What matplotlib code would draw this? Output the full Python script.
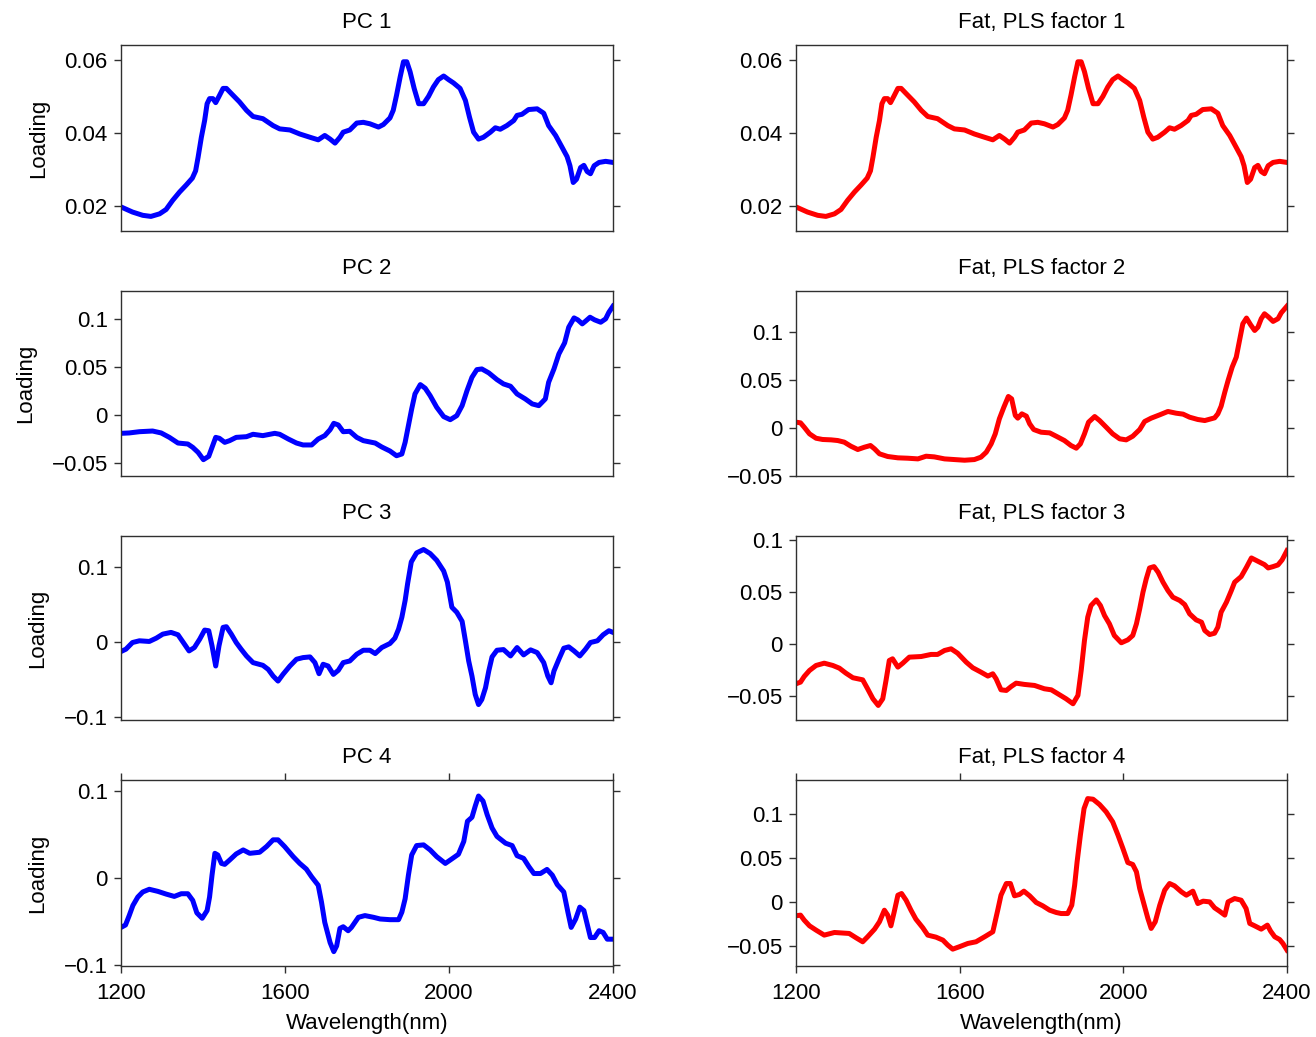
import matplotlib
matplotlib.use("Agg")
import matplotlib.pyplot as plt
from matplotlib.ticker import FuncFormatter

plt.rcParams['font.family'] = ['Liberation Sans', 'DejaVu Sans']

# Principal component loadings
pc1_nm = [1200, 1228, 1253, 1273, 1294, 1310, 1326, 1343, 1359, 1374,
          1382, 1388, 1396, 1404, 1410, 1416, 1424, 1431, 1439, 1449,
          1457, 1469, 1489, 1506, 1522, 1546, 1571, 1587, 1612, 1636,
          1661, 1681, 1697, 1710, 1722, 1734, 1742, 1758, 1775, 1791,
          1807, 1828, 1840, 1856, 1864, 1872, 1881, 1889, 1897, 1905,
          1915, 1926, 1938, 1950, 1962, 1974, 1987, 1999, 2011, 2027,
          2040, 2050, 2060, 2072, 2084, 2101, 2113, 2125, 2141, 2158,
          2166, 2178, 2194, 2215, 2231, 2243, 2260, 2276, 2288, 2295,
          2303, 2311, 2321, 2329, 2337, 2345, 2354, 2366, 2382, 2400]
pc1_load = [0.0197, 0.0183, 0.0174, 0.0171, 0.0178, 0.0190, 0.0215, 0.0238, 0.0257, 0.0276,
            0.0296, 0.0333, 0.0388, 0.0434, 0.0480, 0.0494, 0.0494, 0.0483, 0.0500, 0.0522,
            0.0522, 0.0508, 0.0485, 0.0462, 0.0445, 0.0439, 0.0420, 0.0411, 0.0408, 0.0397,
            0.0388, 0.0381, 0.0393, 0.0383, 0.0372, 0.0388, 0.0402, 0.0408, 0.0427, 0.0429,
            0.0425, 0.0416, 0.0423, 0.0441, 0.0462, 0.0503, 0.0554, 0.0595, 0.0595, 0.0568,
            0.0522, 0.0480, 0.0480, 0.0500, 0.0526, 0.0546, 0.0556, 0.0546, 0.0537, 0.0522,
            0.0489, 0.0443, 0.0402, 0.0383, 0.0388, 0.0402, 0.0414, 0.0410, 0.0420, 0.0434,
            0.0448, 0.0451, 0.0464, 0.0466, 0.0454, 0.0420, 0.0393, 0.0360, 0.0335, 0.0310,
            0.0264, 0.0273, 0.0305, 0.0311, 0.0294, 0.0288, 0.0310, 0.0319, 0.0322, 0.0319]

pc2_nm = [1200, 1220, 1245, 1277, 1298, 1318, 1339, 1363, 1375, 1388,
          1401, 1414, 1422, 1431, 1440, 1453, 1465, 1481, 1506, 1522,
          1546, 1575, 1587, 1608, 1628, 1644, 1665, 1681, 1697, 1710,
          1719, 1730, 1742, 1758, 1775, 1791, 1820, 1836, 1856, 1872,
          1885, 1893, 1901, 1909, 1917, 1930, 1942, 1954, 1970, 1987,
          2003, 2019, 2032, 2044, 2056, 2068, 2080, 2097, 2117, 2133,
          2150, 2166, 2186, 2203, 2219, 2235, 2243, 2256, 2268, 2282,
          2292, 2305, 2314, 2325, 2333, 2344, 2355, 2370, 2382, 2390,
          2400]
pc2_load = [-0.0191, -0.0187, -0.0174, -0.0167, -0.0187, -0.0233, -0.0292, -0.0302, -0.0337, -0.0389,
            -0.0465, -0.0430, -0.0337, -0.0233, -0.0243, -0.0285, -0.0267, -0.0233, -0.0226, -0.0201,
            -0.0215, -0.0191, -0.0201, -0.0250, -0.0292, -0.0312, -0.0312, -0.0250, -0.0215, -0.0153,
            -0.0087, -0.0104, -0.0174, -0.0170, -0.0233, -0.0267, -0.0292, -0.0333, -0.0375, -0.0424,
            -0.0406, -0.0285, -0.0111, 0.0063, 0.0219, 0.0316, 0.0278, 0.0201, 0.0080, -0.0017,
            -0.0049, -0.0007, 0.0097, 0.0254, 0.0392, 0.0472, 0.0479, 0.0438, 0.0368, 0.0323,
            0.0299, 0.0219, 0.0167, 0.0115, 0.0097, 0.0167, 0.0340, 0.0479, 0.0635, 0.0750,
            0.0913, 0.1010, 0.0990, 0.0948, 0.0976, 0.1017, 0.0990, 0.0965, 0.1000, 0.1069,
            0.1132]

pc3_nm = [1200, 1212, 1228, 1245, 1269, 1286, 1302, 1322, 1339, 1352,
          1366, 1379, 1392, 1404, 1414, 1422, 1431, 1439, 1449, 1457,
          1469, 1481, 1493, 1506, 1522, 1546, 1559, 1571, 1583, 1595,
          1612, 1628, 1644, 1661, 1673, 1683, 1693, 1705, 1718, 1730,
          1742, 1758, 1775, 1791, 1807, 1820, 1836, 1856, 1868, 1877,
          1885, 1893, 1899, 1908, 1921, 1938, 1954, 1970, 1987, 1996,
          2007, 2019, 2032, 2040, 2048, 2056, 2064, 2072, 2080, 2089,
          2097, 2105, 2117, 2133, 2150, 2166, 2182, 2199, 2215, 2231,
          2241, 2249, 2256, 2268, 2280, 2292, 2305, 2319, 2333, 2345,
          2362, 2376, 2390, 2400]
pc3_load = [-0.0127, -0.0096, -0.0007, 0.0016, 0.0007, 0.0051, 0.0105, 0.0128, 0.0096, -0.0007,
            -0.0119, -0.0074, 0.0038, 0.0159, 0.0150, -0.0051, -0.0320, -0.0051, 0.0195, 0.0204,
            0.0105, -0.0007, -0.0096, -0.0186, -0.0275, -0.0311, -0.0365, -0.0454, -0.0521, -0.0432,
            -0.0320, -0.0230, -0.0208, -0.0199, -0.0275, -0.0423, -0.0297, -0.0320, -0.0432, -0.0378,
            -0.0275, -0.0253, -0.0163, -0.0110, -0.0110, -0.0154, -0.0074, -0.0020, 0.0051, 0.0172,
            0.0329, 0.0553, 0.0776, 0.1067, 0.1188, 0.1233, 0.1179, 0.1089, 0.0946, 0.0799,
            0.0463, 0.0396, 0.0275, 0.0016, -0.0253, -0.0454, -0.0700, -0.0834, -0.0767, -0.0611,
            -0.0387, -0.0199, -0.0110, -0.0101, -0.0186, -0.0074, -0.0172, -0.0105, -0.0141, -0.0275,
            -0.0454, -0.0544, -0.0387, -0.0230, -0.0083, -0.0065, -0.0119, -0.0186, -0.0096, -0.0007,
            0.0016, 0.0096, 0.0150, 0.0128]

pc4_nm = [1200, 1211, 1220, 1229, 1241, 1253, 1269, 1290, 1310, 1330,
          1347, 1363, 1375, 1385, 1398, 1410, 1416, 1422, 1429, 1436,
          1445, 1453, 1465, 1481, 1498, 1514, 1538, 1555, 1571, 1583,
          1599, 1620, 1636, 1652, 1665, 1681, 1689, 1697, 1710, 1719,
          1726, 1734, 1742, 1754, 1762, 1779, 1795, 1816, 1832, 1856,
          1877, 1885, 1893, 1901, 1909, 1921, 1938, 1954, 1970, 1991,
          2003, 2023, 2036, 2045, 2056, 2064, 2072, 2083, 2093, 2105,
          2117, 2138, 2154, 2166, 2182, 2195, 2207, 2223, 2239, 2252,
          2264, 2280, 2290, 2298, 2309, 2319, 2329, 2337, 2345, 2355,
          2366, 2376, 2386, 2400]
pc4_load = [-0.0567, -0.0539, -0.0431, -0.0315, -0.0218, -0.0160, -0.0129, -0.0153, -0.0184, -0.0211,
            -0.0180, -0.0180, -0.0257, -0.0400, -0.0462, -0.0373, -0.0218, 0.0033, 0.0284, 0.0265,
            0.0168, 0.0157, 0.0207, 0.0277, 0.0323, 0.0284, 0.0296, 0.0362, 0.0439, 0.0439,
            0.0362, 0.0246, 0.0168, 0.0103, 0.0014, -0.0083, -0.0276, -0.0509, -0.0741, -0.0845,
            -0.0779, -0.0578, -0.0559, -0.0605, -0.0567, -0.0451, -0.0431, -0.0451, -0.0470, -0.0478,
            -0.0478, -0.0392, -0.0238, 0.0033, 0.0265, 0.0373, 0.0381, 0.0323, 0.0246, 0.0168,
            0.0207, 0.0273, 0.0420, 0.0652, 0.0698, 0.0826, 0.0942, 0.0884, 0.0729, 0.0575,
            0.0478, 0.0400, 0.0373, 0.0257, 0.0226, 0.0130, 0.0052, 0.0052, 0.0099, 0.0033,
            -0.0075, -0.0160, -0.0392, -0.0567, -0.0470, -0.0334, -0.0373, -0.0528, -0.0683, -0.0683,
            -0.0605, -0.0625, -0.0702, -0.0702]

# PLS weights for fat; the first factor coincides with PC 1
fat1_nm = pc1_nm
fat1_load = pc1_load

fat2_nm = [1200, 1211, 1220, 1233, 1249, 1265, 1286, 1302, 1318, 1334,
           1351, 1367, 1382, 1392, 1404, 1424, 1449, 1473, 1498, 1518,
           1538, 1563, 1587, 1612, 1636, 1652, 1665, 1677, 1687, 1697,
           1708, 1719, 1727, 1736, 1742, 1752, 1763, 1771, 1781, 1799,
           1820, 1836, 1856, 1872, 1885, 1895, 1905, 1915, 1930, 1942,
           1958, 1974, 1991, 2007, 2023, 2040, 2052, 2068, 2089, 2109,
           2129, 2146, 2162, 2182, 2199, 2223, 2231, 2239, 2248, 2256,
           2266, 2276, 2284, 2292, 2301, 2311, 2321, 2329, 2337, 2345,
           2355, 2366, 2378, 2386, 2400]
fat2_load = [0.0058, 0.0051, 0.0006, -0.0064, -0.0110, -0.0123, -0.0127, -0.0134, -0.0151, -0.0193,
             -0.0228, -0.0204, -0.0186, -0.0221, -0.0273, -0.0301, -0.0315, -0.0319, -0.0326, -0.0298,
             -0.0305, -0.0326, -0.0333, -0.0340, -0.0333, -0.0308, -0.0256, -0.0169, -0.0064, 0.0093,
             0.0215, 0.0327, 0.0302, 0.0128, 0.0100, 0.0145, 0.0121, 0.0041, -0.0019, -0.0047,
             -0.0054, -0.0089, -0.0134, -0.0186, -0.0214, -0.0169, -0.0064, 0.0058, 0.0117, 0.0075,
             0.0006, -0.0064, -0.0116, -0.0127, -0.0089, -0.0019, 0.0065, 0.0100, 0.0135, 0.0170,
             0.0152, 0.0142, 0.0110, 0.0086, 0.0075, 0.0103, 0.0145, 0.0225, 0.0372, 0.0494,
             0.0634, 0.0738, 0.0913, 0.1087, 0.1147, 0.1077, 0.1017, 0.1052, 0.1140, 0.1192,
             0.1157, 0.1112, 0.1140, 0.1202, 0.1272]

fat3_nm = [1200, 1211, 1220, 1233, 1249, 1269, 1290, 1306, 1322, 1339,
           1363, 1375, 1388, 1401, 1412, 1420, 1428, 1436, 1449, 1461,
           1477, 1506, 1530, 1546, 1563, 1579, 1595, 1616, 1632, 1652,
           1669, 1681, 1689, 1701, 1714, 1726, 1738, 1758, 1783, 1807,
           1824, 1840, 1860, 1877, 1889, 1897, 1905, 1913, 1921, 1934,
           1944, 1954, 1966, 1978, 1995, 2011, 2023, 2032, 2040, 2048,
           2056, 2064, 2075, 2085, 2097, 2109, 2121, 2138, 2150, 2162,
           2178, 2191, 2199, 2211, 2223, 2231, 2239, 2252, 2264, 2272,
           2288, 2301, 2313, 2329, 2345, 2354, 2366, 2378, 2388, 2400]
fat3_load = [-0.0382, -0.0366, -0.0312, -0.0254, -0.0206, -0.0184, -0.0206, -0.0232, -0.0280, -0.0324,
             -0.0344, -0.0430, -0.0526, -0.0590, -0.0526, -0.0350, -0.0158, -0.0142, -0.0222, -0.0184,
             -0.0126, -0.0120, -0.0100, -0.0100, -0.0062, -0.0046, -0.0088, -0.0174, -0.0228, -0.0270,
             -0.0308, -0.0286, -0.0334, -0.0440, -0.0446, -0.0408, -0.0376, -0.0388, -0.0398, -0.0430,
             -0.0440, -0.0478, -0.0526, -0.0574, -0.0494, -0.0254, 0.0034, 0.0258, 0.0370, 0.0424,
             0.0370, 0.0274, 0.0194, 0.0082, 0.0012, 0.0040, 0.0082, 0.0194, 0.0338, 0.0498,
             0.0626, 0.0731, 0.0744, 0.0690, 0.0594, 0.0514, 0.0450, 0.0418, 0.0379, 0.0290,
             0.0232, 0.0210, 0.0130, 0.0091, 0.0104, 0.0162, 0.0306, 0.0402, 0.0514, 0.0594,
             0.0648, 0.0738, 0.0827, 0.0795, 0.0763, 0.0731, 0.0744, 0.0760, 0.0808, 0.0898]

fat4_nm = [1200, 1211, 1220, 1233, 1249, 1269, 1294, 1330, 1347, 1363,
           1375, 1392, 1404, 1416, 1424, 1432, 1440, 1449, 1458, 1469,
           1481, 1493, 1510, 1522, 1542, 1559, 1571, 1583, 1599, 1620,
           1640, 1661, 1681, 1693, 1701, 1714, 1724, 1734, 1746, 1757,
           1771, 1787, 1803, 1820, 1836, 1848, 1864, 1874, 1881, 1887,
           1895, 1904, 1913, 1926, 1942, 1958, 1974, 1987, 1999, 2011,
           2023, 2032, 2040, 2050, 2060, 2068, 2078, 2089, 2101, 2113,
           2125, 2142, 2154, 2170, 2182, 2195, 2211, 2223, 2235, 2248,
           2256, 2272, 2288, 2300, 2309, 2321, 2337, 2352, 2360, 2370,
           2382, 2390, 2400]
fat4_load = [-0.0158, -0.0150, -0.0207, -0.0272, -0.0321, -0.0378, -0.0348, -0.0359, -0.0409, -0.0454,
             -0.0397, -0.0310, -0.0226, -0.0094, -0.0150, -0.0272, -0.0113, 0.0077, 0.0096, 0.0020,
             -0.0094, -0.0196, -0.0295, -0.0378, -0.0401, -0.0435, -0.0492, -0.0538, -0.0511, -0.0473,
             -0.0454, -0.0397, -0.0340, -0.0094, 0.0077, 0.0210, 0.0210, 0.0070, 0.0085, 0.0123,
             0.0070, -0.0006, -0.0044, -0.0094, -0.0120, -0.0132, -0.0132, -0.0037, 0.0191, 0.0457,
             0.0761, 0.1065, 0.1178, 0.1171, 0.1110, 0.1027, 0.0913, 0.0761, 0.0609, 0.0449,
             0.0427, 0.0343, 0.0153, -0.0018, -0.0188, -0.0302, -0.0226, -0.0037, 0.0134, 0.0210,
             0.0184, 0.0115, 0.0077, 0.0123, -0.0018, 0.0009, 0.0001, -0.0067, -0.0105, -0.0150,
             0.0001, 0.0039, 0.0020, -0.0075, -0.0245, -0.0272, -0.0310, -0.0264, -0.0333, -0.0397,
             -0.0428, -0.0473, -0.0549]

pc_titles = ["PC 1", "PC 2", "PC 3", "PC 4"]
fat_titles = ["Fat, PLS factor 1", "Fat, PLS factor 2", "Fat, PLS factor 3", "Fat, PLS factor 4"]
x_ticks = [1200, 1600, 2000, 2400]

pc_yticks = [[0.02, 0.04, 0.06], [-0.05, 0, 0.05, 0.1], [-0.1, 0, 0.1], [-0.1, 0, 0.1]]
pc_ylims = [(0.0131, 0.0641), (-0.0635, 0.129), (-0.104, 0.1413), (-0.101, 0.1126)]
fat_yticks = [[0.02, 0.04, 0.06], [-0.05, 0, 0.05, 0.1], [-0.05, 0, 0.05, 0.1], [-0.05, 0, 0.05, 0.1]]
fat_ylims = [(0.0131, 0.0641), (-0.0505, 0.143), (-0.073, 0.1038), (-0.073, 0.139)]

pc_curves = [(pc1_nm, pc1_load), (pc2_nm, pc2_load), (pc3_nm, pc3_load), (pc4_nm, pc4_load)]
fat_curves = [(fat1_nm, fat1_load), (fat2_nm, fat2_load), (fat3_nm, fat3_load), (fat4_nm, fat4_load)]

W, H = 1316, 1037
fig = plt.figure(figsize=(W / 100, H / 100), dpi=100)

# axes boxes in pixels: (left, right) per column, (top, bottom) per row
col_px = [(121, 613), (796, 1287)]
row_px = [(45, 231), (291, 476), (536, 720), (780, 966)]

tick_fmt = FuncFormatter(lambda v, _: ('%g' % v).replace('-', '\u2212'))
edge = '#303030'
fs = 16


def make_axes(col, row):
    x0, x1 = col_px[col]
    y0, y1 = row_px[row]
    return fig.add_axes([x0 / W, 1 - y1 / H, (x1 - x0) / W, (y1 - y0) / H])


for col, (curves, titles, yticks, ylims, color) in enumerate([
        (pc_curves, pc_titles, pc_yticks, pc_ylims, '#0000ff'),
        (fat_curves, fat_titles, fat_yticks, fat_ylims, '#ff0000')]):
    for row in range(4):
        ax = make_axes(col, row)
        nm, load = curves[row]
        ax.plot(nm, load, color=color, lw=3.6)
        ax.set_xlim(1200, 2400)
        ax.set_ylim(*ylims[row])
        ax.set_yticks(yticks[row])
        ax.yaxis.set_major_formatter(tick_fmt)
        ax.set_title(titles[row], fontsize=fs, pad=12)
        for s in ax.spines.values():
            s.set_color(edge)
            s.set_linewidth(1.0)
        ax.tick_params(axis='y', direction='out', length=5, width=1.0, color=edge,
                       left=True, right=True, labelsize=fs, pad=4.5)
        if row == 3:
            ax.set_xticks(x_ticks)
            ax.tick_params(axis='x', direction='out', length=5, width=1.0, color=edge,
                           top=True, bottom=True, labelsize=fs, pad=7)
            ax.set_xlabel("Wavelength(nm)", fontsize=fs, labelpad=7)
        else:
            ax.set_xticks([])
        if col == 0:
            ax.set_ylabel("Loading", fontsize=fs, labelpad=11)

fig.savefig("out.png", dpi=100)
